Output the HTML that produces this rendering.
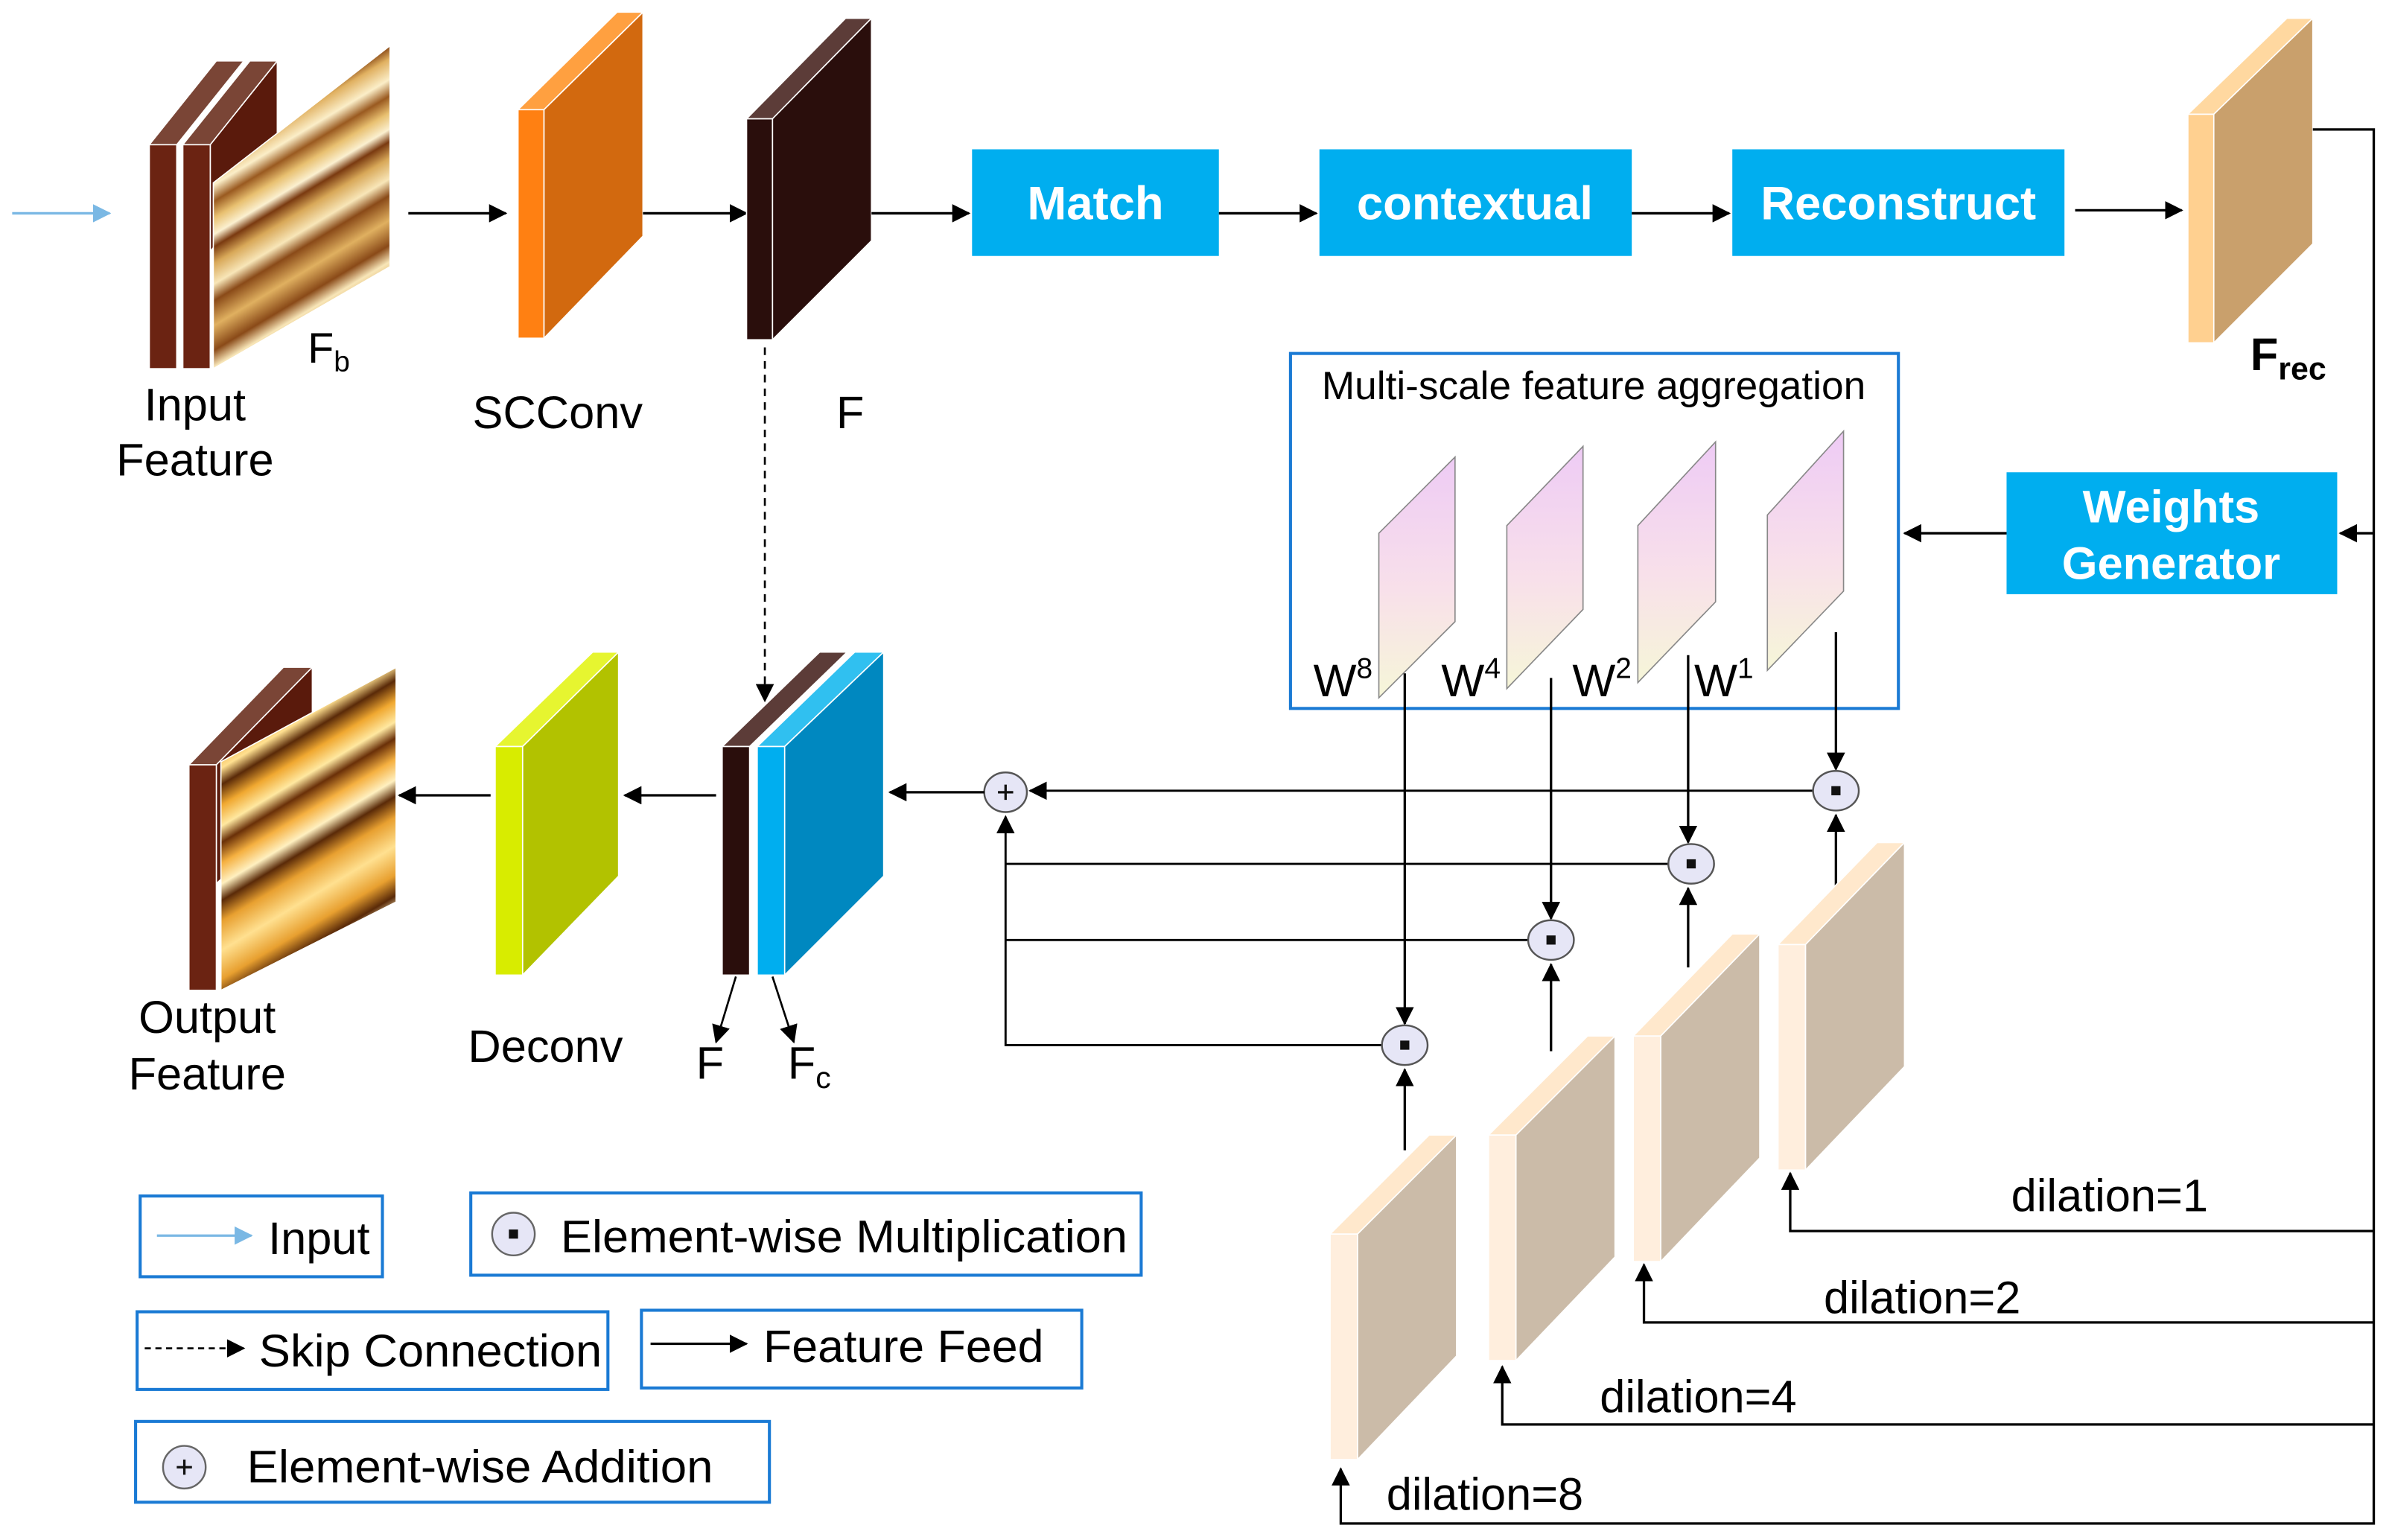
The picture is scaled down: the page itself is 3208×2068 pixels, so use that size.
<!DOCTYPE html>
<html><head><meta charset="utf-8"><style>html,body{margin:0;padding:0;background:#fff}svg{display:block}</style></head>
<body>
<svg width="3208" height="2068" viewBox="0 0 1568 1010.8" preserveAspectRatio="none" xmlns="http://www.w3.org/2000/svg" font-family="Liberation Sans, sans-serif">
<defs>
<marker id="ah" markerWidth="12" markerHeight="12" refX="11" refY="6" orient="auto" markerUnits="userSpaceOnUse"><path d="M0,0 L12,6 L0,12 Z" fill="#000"/></marker>
<marker id="ahb" markerWidth="12" markerHeight="12" refX="11" refY="6" orient="auto" markerUnits="userSpaceOnUse"><path d="M0,0 L12,6 L0,12 Z" fill="#7ab8e4"/></marker>
<linearGradient id="tex" gradientUnits="userSpaceOnUse" x1="170" y1="60" x2="230" y2="160" spreadMethod="reflect">
<stop offset="0" stop-color="#e8c070"/><stop offset="0.1" stop-color="#f6e2b0"/><stop offset="0.16" stop-color="#8a4a18"/><stop offset="0.22" stop-color="#e0b060"/><stop offset="0.32" stop-color="#fbeec8"/><stop offset="0.4" stop-color="#9a5a20"/><stop offset="0.48" stop-color="#e8c070"/><stop offset="0.56" stop-color="#fbf0d0"/><stop offset="0.62" stop-color="#7a3a10"/><stop offset="0.7" stop-color="#d8a858"/><stop offset="0.8" stop-color="#f8e6b8"/><stop offset="0.88" stop-color="#8a4a18"/><stop offset="1" stop-color="#e0b060"/>
</linearGradient>
<linearGradient id="tex2" gradientUnits="userSpaceOnUse" x1="175" y1="470" x2="235" y2="570" spreadMethod="reflect">
<stop offset="0" stop-color="#e8a030"/><stop offset="0.12" stop-color="#ffe090"/><stop offset="0.2" stop-color="#5a2a08"/><stop offset="0.3" stop-color="#f0a830"/><stop offset="0.4" stop-color="#ffe8a0"/><stop offset="0.48" stop-color="#6a3008"/><stop offset="0.58" stop-color="#f5b040"/><stop offset="0.68" stop-color="#fff0c0"/><stop offset="0.76" stop-color="#5a2a08"/><stop offset="0.86" stop-color="#e8a030"/><stop offset="1" stop-color="#ffe090"/>
</linearGradient>
<linearGradient id="pink" x1="0" y1="0" x2="0" y2="1"><stop offset="0" stop-color="#eecbf5"/><stop offset="0.55" stop-color="#f8e0ea"/><stop offset="1" stop-color="#f6f6d8"/></linearGradient>
</defs>

<line x1="8" y1="140" x2="72" y2="140" stroke="#7ab8e4" stroke-width="1.6" marker-end="url(#ahb)"/>

<g stroke="#fff" stroke-width="0.8">
<polygon points="98,95 142,40 160,40 116,95" fill="#7a4536"/>
<rect x="98" y="95" width="18" height="147" fill="#6b2312"/>
<polygon points="120,95 164,40 182,40 138,95" fill="#7a4536"/>
<polygon points="138,95 182,40 182,110 138,165" fill="#5a1a0c"/>
<rect x="120" y="95" width="18" height="147" fill="#6b2312"/>
<polygon points="140,120 256,30 256,175 140,242" fill="url(#tex)"/>
</g>
<text x="202" y="238" font-size="28">F<tspan font-size="19" dy="6">b</tspan></text>
<text x="128" y="276" font-size="30" text-anchor="middle">Input</text>
<text x="128" y="312" font-size="30" text-anchor="middle">Feature</text>
<line x1="268" y1="140" x2="332" y2="140" stroke="#000" stroke-width="1.6" marker-end="url(#ah)"/>

<g stroke="#fff" stroke-width="0.8">
<polygon points="340,72 405,8 422,8 357,72" fill="#ffa040"/>
<polygon points="357,72 422,8 422,155 357,222" fill="#d2690f"/>
<rect x="340" y="72" width="17" height="150" fill="#ff8012"/>
</g>
<text x="366" y="281" font-size="30" text-anchor="middle">SCConv</text>
<line x1="422" y1="140" x2="490" y2="140" stroke="#000" stroke-width="1.6" marker-end="url(#ah)"/>

<g stroke="#fff" stroke-width="0.8">
<polygon points="490,78 555,12 572,12 507,78" fill="#5c3c38"/>
<polygon points="507,78 572,12 572,158 507,223" fill="#2a0e0c"/>
<rect x="490" y="78" width="17" height="145" fill="#2a0e0c"/>
</g>
<text x="558" y="281" font-size="30" text-anchor="middle">F</text>
<line x1="572" y1="140" x2="636" y2="140" stroke="#000" stroke-width="1.6" marker-end="url(#ah)"/>

<rect x="638" y="98" width="162" height="70" fill="#00aeef"/>
<text x="719" y="144" font-size="31" font-weight="bold" fill="#fff" text-anchor="middle">Match</text>
<line x1="800" y1="140" x2="864" y2="140" stroke="#000" stroke-width="1.6" marker-end="url(#ah)"/>
<rect x="866" y="98" width="205" height="70" fill="#00aeef"/>
<text x="968" y="144" font-size="31" font-weight="bold" fill="#fff" text-anchor="middle">contextual</text>
<line x1="1071" y1="140" x2="1135" y2="140" stroke="#000" stroke-width="1.6" marker-end="url(#ah)"/>
<rect x="1137" y="98" width="218" height="70" fill="#00aeef"/>
<text x="1246" y="144" font-size="31" font-weight="bold" fill="#fff" text-anchor="middle">Reconstruct</text>
<line x1="1362" y1="138" x2="1432" y2="138" stroke="#000" stroke-width="1.6" marker-end="url(#ah)"/>

<g stroke="#fff" stroke-width="0.8">
<polygon points="1436,75 1501,12 1518,12 1453,75" fill="#ffd8a0"/>
<polygon points="1453,75 1518,12 1518,160 1453,225" fill="#c9a06c"/>
<rect x="1436" y="75" width="17" height="150" fill="#ffd090"/>
</g>
<text x="1477" y="243" font-size="30" font-weight="bold">F<tspan font-size="21" dy="6">rec</tspan></text>

<polyline points="1518,85 1558,85 1558,1000 880,1000 880,964" fill="none" stroke="#000" stroke-width="1.6" marker-end="url(#ah)"/>
<line x1="1558" y1="350" x2="1536" y2="350" stroke="#000" stroke-width="1.6" marker-end="url(#ah)"/>
<polyline points="1558,808 1175,808 1175,770" fill="none" stroke="#000" stroke-width="1.6" marker-end="url(#ah)"/>
<polyline points="1558,868 1079,868 1079,830" fill="none" stroke="#000" stroke-width="1.6" marker-end="url(#ah)"/>
<polyline points="1558,935 986,935 986,897" fill="none" stroke="#000" stroke-width="1.6" marker-end="url(#ah)"/>

<rect x="1317" y="310" width="217" height="80" fill="#00aeef"/>
<text x="1425" y="343" font-size="30" font-weight="bold" fill="#fff" text-anchor="middle">Weights</text>
<text x="1425" y="380" font-size="30" font-weight="bold" fill="#fff" text-anchor="middle">Generator</text>
<line x1="1317" y1="350" x2="1250" y2="350" stroke="#000" stroke-width="1.6" marker-end="url(#ah)"/>

<rect x="847" y="232" width="399" height="233" fill="none" stroke="#1a7ad4" stroke-width="2"/>
<text x="1046" y="262" font-size="26" text-anchor="middle">Multi-scale feature aggregation</text>
<g stroke="#888" stroke-width="0.8" fill="url(#pink)">
<polygon points="905,350 955,300 955,408 905,458"/>
<polygon points="989,345 1039,293 1039,400 989,452"/>
<polygon points="1075,345 1126,290 1126,395 1075,448"/>
<polygon points="1160,338 1210,283 1210,388 1160,440"/>
</g>
<g font-size="30"><text x="862" y="457">W<tspan font-size="19" dy="-12">8</tspan></text>
<text x="946" y="457">W<tspan font-size="19" dy="-12">4</tspan></text>
<text x="1032" y="457">W<tspan font-size="19" dy="-12">2</tspan></text>
<text x="1112" y="457">W<tspan font-size="19" dy="-12">1</tspan></text></g>

<g stroke="#000" stroke-width="1.6" marker-end="url(#ah)">
<line x1="922" y1="442" x2="922" y2="672"/>
<line x1="1018" y1="445" x2="1018" y2="603"/>
<line x1="1108" y1="430" x2="1108" y2="553"/>
<line x1="1205" y1="415" x2="1205" y2="505"/>
<line x1="1205" y1="585" x2="1205" y2="535"/>
<line x1="1108" y1="635" x2="1108" y2="583"/>
<line x1="1018" y1="690" x2="1018" y2="633"/>
<line x1="922" y1="755" x2="922" y2="702"/>
</g>
<g stroke="#000" stroke-width="1.4" fill="none">
<line x1="1190" y1="519" x2="676" y2="519" marker-end="url(#ah)"/>
<polyline points="1096,567 660,567"/>
<polyline points="1004,617 660,617"/>
<polyline points="908,686 660,686 660,536" marker-end="url(#ah)"/>
</g>
<g fill="#e6e6f6" stroke="#555" stroke-width="1.2">
<ellipse cx="1205" cy="519" rx="15" ry="13"/><ellipse cx="1110" cy="567" rx="15" ry="13"/>
<ellipse cx="1018" cy="617" rx="15" ry="13"/><ellipse cx="922" cy="686" rx="15" ry="13"/>
<ellipse cx="660" cy="520" rx="14" ry="13"/>
</g>
<g fill="#111"><rect x="1202" y="516" width="6" height="6"/><rect x="1107" y="564" width="6" height="6"/><rect x="1015" y="614" width="6" height="6"/><rect x="919" y="683" width="6" height="6"/></g>
<path d="M655,520 H665 M660,515 V525" stroke="#111" stroke-width="1.6"/>
<line x1="646" y1="520" x2="584" y2="520" stroke="#000" stroke-width="1.6" marker-end="url(#ah)"/>

<g stroke="#fff" stroke-width="0.8">
<polygon points="1167,620 1232,553 1250,553 1185,620" fill="#ffe8cc"/>
<polygon points="1185,620 1250,553 1250,700 1185,768" fill="#cbbba8"/>
<rect x="1167" y="620" width="18" height="148" fill="#ffeedd"/>
<polygon points="1072,680 1137,613 1155,613 1090,680" fill="#ffe8cc"/>
<polygon points="1090,680 1155,613 1155,760 1090,828" fill="#cbbba8"/>
<rect x="1072" y="680" width="18" height="148" fill="#ffeedd"/>
<polygon points="977,745 1042,680 1060,680 995,745" fill="#ffe8cc"/>
<polygon points="995,745 1060,680 1060,825 995,893" fill="#cbbba8"/>
<rect x="977" y="745" width="18" height="148" fill="#ffeedd"/>
<polygon points="873,810 938,745 956,745 891,810" fill="#ffe8cc"/>
<polygon points="891,810 956,745 956,890 891,958" fill="#cbbba8"/>
<rect x="873" y="810" width="18" height="148" fill="#ffeedd"/>
</g>
<g font-size="30"><text x="1320" y="795">dilation=1</text><text x="1197" y="862">dilation=2</text><text x="1050" y="927">dilation=4</text><text x="910" y="991">dilation=8</text></g>

<line x1="502" y1="228" x2="502" y2="460" stroke="#000" stroke-width="1.3" stroke-dasharray="5,4" marker-end="url(#ah)"/>
<g stroke="#fff" stroke-width="0.8">
<polygon points="474,490 538,428 556,428 492,490" fill="#5c3c38"/>
<rect x="474" y="490" width="18" height="150" fill="#2a0e0c"/>
<polygon points="497,490 561,428 580,428 515,490" fill="#30c0f0"/>
<polygon points="515,490 580,428 580,575 515,640" fill="#0088c0"/>
<rect x="497" y="490" width="18" height="150" fill="#00aeef"/>
</g>
<g stroke="#000" stroke-width="1.3" marker-end="url(#ah)"><line x1="483" y1="641" x2="470" y2="684"/><line x1="507" y1="641" x2="521" y2="684"/></g>
<text x="466" y="708" font-size="30" text-anchor="middle">F</text>
<text x="517" y="708" font-size="30">F<tspan font-size="20" dy="6">c</tspan></text>
<line x1="470" y1="522" x2="410" y2="522" stroke="#000" stroke-width="1.6" marker-end="url(#ah)"/>

<g stroke="#fff" stroke-width="0.8">
<polygon points="325,490 389,428 406,428 343,490" fill="#e6f530"/>
<polygon points="343,490 406,428 406,575 343,640" fill="#b2c200"/>
<rect x="325" y="490" width="18" height="150" fill="#d8ec00"/>
</g>
<text x="358" y="697" font-size="30" text-anchor="middle">Deconv</text>
<line x1="322" y1="522" x2="262" y2="522" stroke="#000" stroke-width="1.6" marker-end="url(#ah)"/>

<g stroke="#fff" stroke-width="0.8">
<polygon points="124,502 186,438 205,438 142,502" fill="#7a4536"/>
<polygon points="142,502 205,438 205,520 142,580" fill="#5a1a0c"/>
<rect x="124" y="502" width="18" height="148" fill="#6b2312"/>
<polygon points="145,500 260,438 260,592 145,650" fill="url(#tex2)"/>
</g>
<text x="136" y="678" font-size="30" text-anchor="middle">Output</text>
<text x="136" y="715" font-size="30" text-anchor="middle">Feature</text>

<g fill="none" stroke="#1a7ad4" stroke-width="2">
<rect x="92" y="785" width="159" height="53"/><rect x="309" y="783" width="440" height="54"/>
<rect x="90" y="861" width="309" height="51"/><rect x="421" y="860" width="289" height="51"/>
<rect x="89" y="933" width="416" height="53"/>
</g>
<line x1="103" y1="811" x2="165" y2="811" stroke="#7ab8e4" stroke-width="1.6" marker-end="url(#ahb)"/>
<text x="176" y="823" font-size="30">Input</text>
<ellipse cx="337" cy="810" rx="14" ry="14" fill="#e6e6f6" stroke="#666" stroke-width="1.2"/><rect x="334" y="807" width="6" height="6" fill="#111"/>
<text x="368" y="822" font-size="30" textLength="372" lengthAdjust="spacingAndGlyphs">Element-wise Multiplication</text>
<line x1="95" y1="885" x2="160" y2="885" stroke="#000" stroke-width="1.3" stroke-dasharray="4,3" marker-end="url(#ah)"/>
<text x="170" y="897" font-size="30" textLength="225" lengthAdjust="spacingAndGlyphs">Skip Connection</text>
<line x1="427" y1="882" x2="490" y2="882" stroke="#000" stroke-width="1.6" marker-end="url(#ah)"/>
<text x="501" y="894" font-size="30" textLength="184" lengthAdjust="spacingAndGlyphs">Feature Feed</text>
<ellipse cx="121" cy="963" rx="14" ry="14" fill="#e6e6f6" stroke="#666" stroke-width="1.2"/>
<path d="M116,963 H126 M121,958 V968" stroke="#111" stroke-width="1.6"/>
<text x="162" y="973" font-size="30" textLength="306" lengthAdjust="spacingAndGlyphs">Element-wise Addition</text>
</svg>
</body></html>
